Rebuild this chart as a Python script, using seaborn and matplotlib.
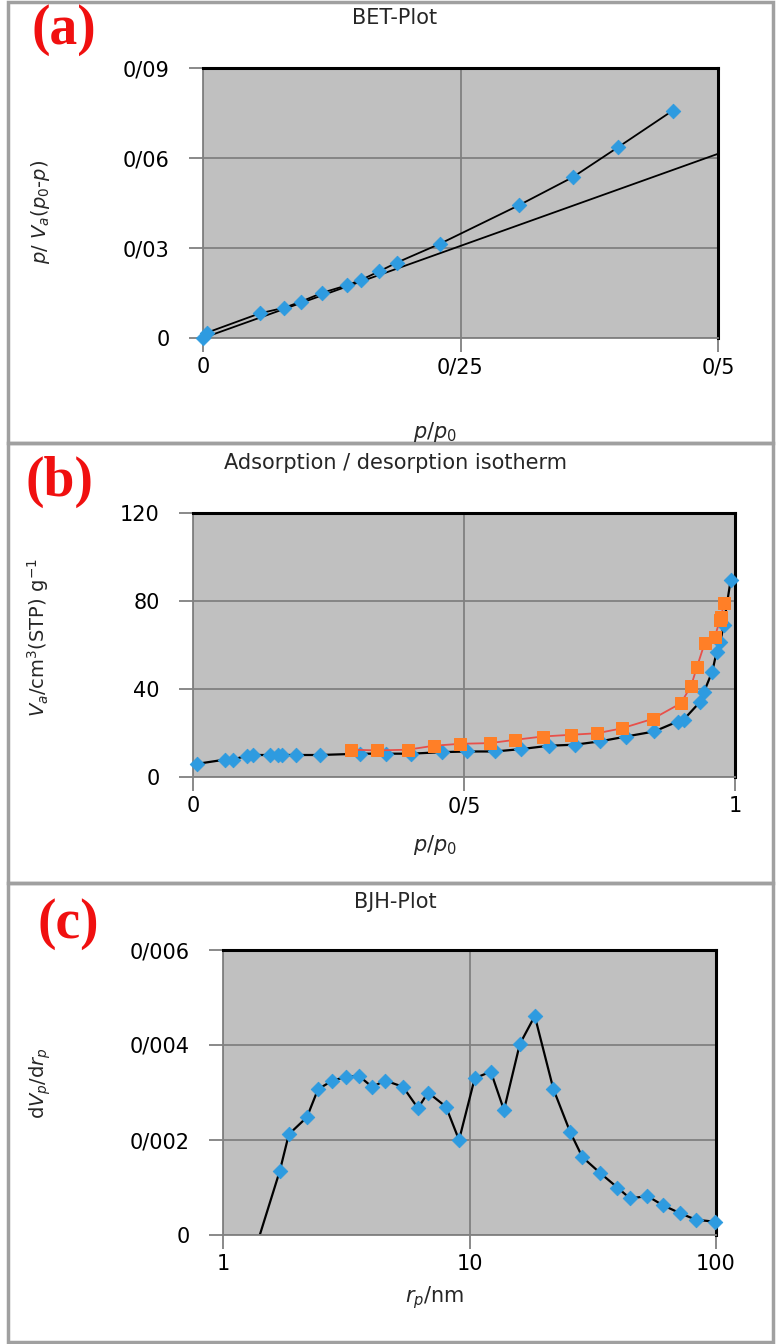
import numpy as np
import pandas as pd
import seaborn as sns
import matplotlib.pyplot as plt
from matplotlib.patches import Rectangle

# (a) BET plot
bet_x = [0.0, 0.004, 0.055, 0.079, 0.095, 0.116, 0.140, 0.153, 0.171, 0.188, 0.230, 0.307, 0.359, 0.403, 0.456]
bet_y = [0.0, 0.0018, 0.0082, 0.0101, 0.0121, 0.0151, 0.0176, 0.0193, 0.0222, 0.0251, 0.0314, 0.0443, 0.0536, 0.0636, 0.0758]
fit_x = [0.0, 0.5]
fit_y = [0.0, 0.0614]

# (b) adsorption / desorption isotherm
ads_x = [0.008, 0.059, 0.073, 0.10, 0.11, 0.142, 0.156, 0.165, 0.19, 0.234, 0.308, 0.356, 0.402, 0.46,
         0.506, 0.557, 0.606, 0.656, 0.705, 0.751, 0.799, 0.851, 0.894, 0.905, 0.935, 0.943, 0.958,
         0.966, 0.973, 0.979, 0.992]
ads_y = [6.0, 7.9, 7.9, 9.7, 10.0, 10.0, 10.0, 10.0, 10.0, 10.0, 10.6, 10.6, 10.6, 11.3,
         11.6, 11.6, 12.7, 14.2, 14.7, 16.2, 18.4, 20.7, 25.2, 26.0, 34.0, 38.8, 47.9,
         56.7, 61.5, 69.0, 89.5]
des_x = [0.292, 0.340, 0.396, 0.444, 0.493, 0.548, 0.594, 0.645, 0.698, 0.746, 0.791, 0.848, 0.900,
         0.919, 0.930, 0.944, 0.963, 0.972, 0.975, 0.979]
des_y = [12.4, 12.1, 12.4, 14.2, 15.1, 15.4, 16.9, 18.4, 19.2, 19.9, 22.1, 26.4, 33.5,
         41.4, 50.2, 60.8, 63.8, 71.3, 72.8, 79.3]

# (c) BJH plot
bjh_r = [1.41, 1.70, 1.85, 2.19, 2.43, 2.78, 3.16, 3.56, 4.02, 4.56, 5.37, 6.18, 6.79, 8.03, 9.07,
         10.5, 12.2, 13.8, 16.0, 18.4, 21.9, 25.6, 28.7, 33.8, 39.8, 44.8, 52.7, 60.7, 71.4, 83.0, 99.0]
bjh_dv = [0.0, 0.00135, 0.00212, 0.00248, 0.00307, 0.00325, 0.00333, 0.00335, 0.00312, 0.00325, 0.00312,
          0.00267, 0.00300, 0.00270, 0.00200, 0.00330, 0.00344, 0.00263, 0.00402, 0.00461, 0.00307,
          0.00217, 0.00164, 0.00131, 0.00100, 0.00077, 0.00082, 0.00063, 0.00046, 0.00032, 0.00028]

sns.set_style("white")
plt.rcParams['font.family'] = ['DejaVu Sans']
plt.rcParams['mathtext.fontset'] = 'dejavusans'

blue = "#2E9BE0"
orange = "#FF7F27"
grid_c = "#808080"

fig = plt.figure(figsize=(7.8, 13.44), dpi=100)
W, H = 780, 1344


def px_axes(left, top, right, bottom):
    return fig.add_axes([left / W, 1 - bottom / H, (right - left) / W, (bottom - top) / H])


def style(ax):
    ax.set_facecolor("#C0C0C0")
    ax.grid(True, color=grid_c, lw=1.3)
    ax.set_axisbelow(True)
    for s in ["top", "right"]:
        ax.spines[s].set_color("black")
        ax.spines[s].set_linewidth(2.2)
    for s in ["left", "bottom"]:
        ax.spines[s].set_color(grid_c)
        ax.spines[s].set_linewidth(1.3)
    ax.tick_params(direction="out", length=10, width=1.3, color=grid_c, labelsize=15,
                   labelcolor="black", left=True, bottom=True)
    ax.tick_params(axis="y", pad=14)
    ax.tick_params(axis="x", pad=4)
    ax.set_xlabel("")
    ax.set_ylabel("")


# panel borders
for top, bottom in [(2, 443), (443, 883), (883, 1342)]:
    fig.patches.append(Rectangle((8 / W, 1 - bottom / H), 765 / W, (bottom - top) / H,
                                 transform=fig.transFigure, fill=False, ec="#A0A0A0", lw=2.5))

# (a)
ax1 = px_axes(203, 68, 718, 338)
sns.lineplot(x=fit_x, y=fit_y, color="black", lw=1.3, ax=ax1)
sns.lineplot(x=bet_x, y=bet_y, color="black", lw=1.3, sort=False, estimator=None, ax=ax1)
sns.scatterplot(x=bet_x, y=bet_y, marker="D", s=55, color=blue, edgecolor=blue, ax=ax1,
                zorder=3, clip_on=False)
ax1.set_xlim(0, 0.5)
ax1.set_ylim(0, 0.09)
ax1.set_xticks([0, 0.25, 0.5], ["0", "0/25", "0/5"])
ax1.set_yticks([0, 0.03, 0.06, 0.09], ["0", "0/03", "0/06", "0/09"])
style(ax1)

# (b)
ax2 = px_axes(193, 513, 735, 777)
sns.lineplot(x=ads_x, y=ads_y, color="black", lw=1.6, sort=False, estimator=None, ax=ax2)
sns.scatterplot(x=ads_x, y=ads_y, marker="D", s=55, color=blue, edgecolor=blue, ax=ax2,
                zorder=3, clip_on=False)
sns.lineplot(x=des_x, y=des_y, color="#E8504A", lw=1.3, sort=False, estimator=None, ax=ax2, zorder=4)
sns.scatterplot(x=des_x, y=des_y, marker="s", s=80, color=orange, edgecolor=orange, ax=ax2, zorder=5)
ax2.set_xlim(0, 1)
ax2.set_ylim(0, 120)
ax2.set_xticks([0, 0.5, 1], ["0", "0/5", "1"])
ax2.set_yticks([0, 40, 80, 120], ["0", "40", "80", "120"])
style(ax2)

# (c)
ax3 = px_axes(223, 950, 716, 1235)
sns.lineplot(x=bjh_r, y=bjh_dv, color="black", lw=1.6, sort=False, estimator=None, ax=ax3)
sns.scatterplot(x=bjh_r[1:], y=bjh_dv[1:], marker="D", s=55, color=blue, edgecolor=blue, ax=ax3,
                zorder=3, clip_on=False)
ax3.set_xscale("log")
ax3.set_xlim(1, 100)
ax3.set_ylim(0, 0.006)
ax3.minorticks_off()
ax3.set_xticks([1, 10, 100], ["1", "10", "100"])
ax3.set_yticks([0, 0.002, 0.004, 0.006], ["0", "0/002", "0/004", "0/006"])
style(ax3)
ax3.grid(False, which="minor")

# titles
for y, t in [(18, "BET-Plot"), (463, "Adsorption / desorption isotherm"), (902, "BJH-Plot")]:
    fig.text(395 / W, 1 - y / H, t, ha="center", va="center", fontsize=15)

# panel letters
for x, y, t in [(64, 30, "(a)"), (60, 482, "(b)"), (68, 924, "(c)")]:
    fig.text(x / W, 1 - y / H, t, ha="center", va="center", fontsize=40, color="#F01010",
             fontweight="bold", family=["Liberation Serif", "DejaVu Serif"])

# axis labels
fig.text(40 / W, 1 - 212 / H, r"$p$/ $V_a$($p_0$-$p$)", rotation=90, ha="center", va="center", fontsize=14)
fig.text(38 / W, 1 - 638 / H, r"$V_a$/cm$^3$(STP) g$^{-1}$", rotation=90, ha="center", va="center", fontsize=14)
fig.text(40 / W, 1 - 1083 / H, r"d$V_p$/d$r_p$", rotation=90, ha="center", va="center", fontsize=14)
fig.text(435 / W, 1 - 432 / H, r"$p$/$p_0$", ha="center", va="center", fontsize=15)
fig.text(435 / W, 1 - 845 / H, r"$p$/$p_0$", ha="center", va="center", fontsize=15)
fig.text(435 / W, 1 - 1298 / H, r"$r_p$/nm", ha="center", va="center", fontsize=15)

fig.savefig("out.png", dpi=100)
